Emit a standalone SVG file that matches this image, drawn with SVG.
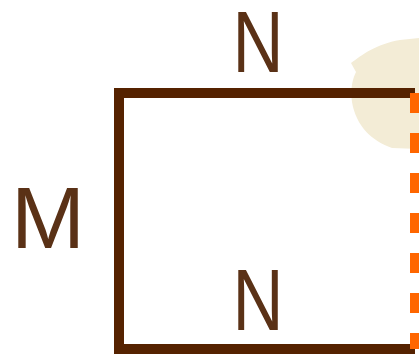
<svg xmlns="http://www.w3.org/2000/svg" width="419" height="356" viewBox="0 0 419 356">
<style>
.lbl{font-family:"Liberation Sans",Arial,sans-serif;font-size:88px;fill:#5a3116;text-anchor:middle}
.edge{stroke:#552200;stroke-width:10;fill:none}
</style>
<rect width="419" height="356" fill="#ffffff"/>
<g id="blob">
<path d="M351,63 C362,55 376,44 400,40 L419,38 L419,149 L392,148 C372,141 356,126 352,102 C350,88 353,78 356,72 Z" fill="#f3ecd6"/>
</g>
<g id="connectors">
<path class="edge" d="M415,93 L119,93 L119,349 L415,349"/>
<line x1="415" y1="93" x2="415" y2="349" stroke="#ff6600" stroke-width="10" stroke-dasharray="20 20"/>
</g>
<g id="label-top"><text class="lbl" x="258" y="72" textLength="51" lengthAdjust="spacingAndGlyphs">N</text></g>
<g id="label-bottom"><text class="lbl" x="258" y="330" textLength="51" lengthAdjust="spacingAndGlyphs">N</text></g>
<g id="label-left"><text class="lbl" x="48" y="248" textLength="74" lengthAdjust="spacingAndGlyphs">M</text></g>
</svg>
